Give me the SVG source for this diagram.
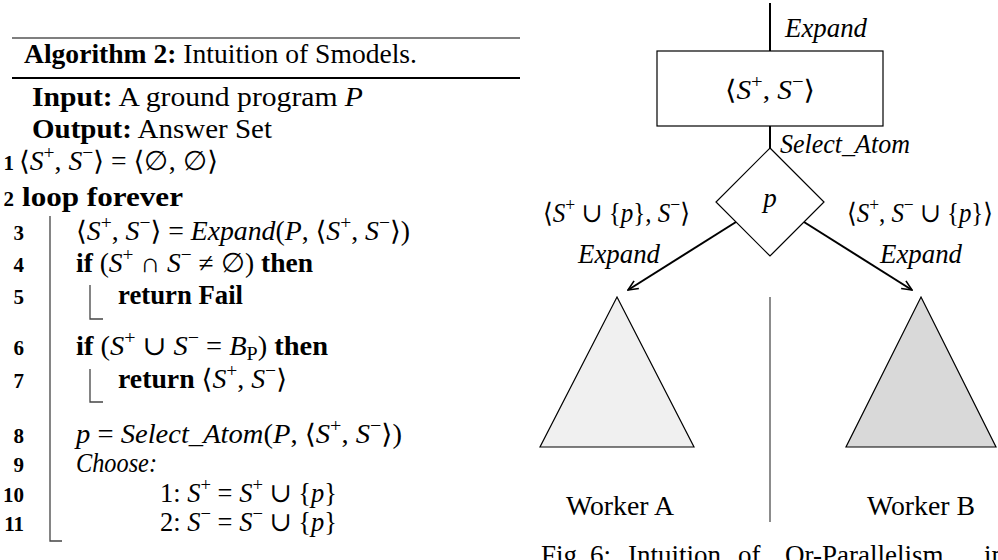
<svg xmlns="http://www.w3.org/2000/svg" width="998" height="560" viewBox="0 0 998 560">
  <style>
    .t{font-family:"Liberation Serif","DejaVu Serif",serif;font-size:27px;fill:#000}
    .b{font-weight:bold}
    .i{font-style:italic}
    .sp{font-size:19px;font-style:normal}
    .ln{font-family:"Liberation Serif","DejaVu Serif",serif;font-size:21px;font-weight:bold;text-anchor:end;fill:#000}
    .mid{text-anchor:middle}
    .rule{stroke:#000;fill:none}
    .bar{stroke:#444;stroke-width:1.3;fill:none}
    .edge{stroke:#000;stroke-width:2;fill:none}
    .shape{stroke:#000;stroke-width:1.2}
  </style>
  <defs>
    <marker id="ah" viewBox="0 0 12 12" refX="11" refY="6" markerWidth="12" markerHeight="12" markerUnits="userSpaceOnUse" orient="auto">
      <path d="M1,1.5 L11,6 L1,10.5" fill="none" stroke="#000" stroke-width="1.6"/>
    </marker>
  </defs>
  <rect width="998" height="560" fill="#fff"/>

  <!-- Algorithm listing -->
  <g id="algorithm">
    <line class="rule" x1="12" y1="38" x2="520" y2="38" stroke-width="1.2"/>
    <text class="t" x="24" y="63" textLength="393" lengthAdjust="spacingAndGlyphs"><tspan class="b">Algorithm 2:</tspan> Intuition of Smodels.</text>
    <line class="rule" x1="12" y1="78" x2="520" y2="78" stroke-width="2"/>
    <text class="t" x="32" y="106" textLength="331" lengthAdjust="spacingAndGlyphs"><tspan class="b">Input:</tspan> A ground program <tspan class="i">P</tspan></text>
    <text class="t" x="32" y="138" textLength="240" lengthAdjust="spacingAndGlyphs"><tspan class="b">Output:</tspan> Answer Set</text>

    <text class="ln" x="14" y="170">1</text>
    <text class="t" x="19" y="170" textLength="199" lengthAdjust="spacingAndGlyphs">⟨<tspan class="i">S</tspan><tspan class="sp" dy="-11">+</tspan><tspan dy="11">, </tspan><tspan class="i">S</tspan><tspan class="sp" dy="-11">−</tspan><tspan dy="11">⟩ = ⟨∅, ∅⟩</tspan></text>

    <text class="ln" x="14" y="206">2</text>
    <text class="t b" x="22" y="206" textLength="161" lengthAdjust="spacingAndGlyphs">loop forever</text>

    <!-- loop body bar -->
    <polyline class="bar" points="50,216 50,541 62,541"/>

    <text class="ln" x="24" y="240">3</text>
    <text class="t" x="76" y="240" textLength="334" lengthAdjust="spacingAndGlyphs">⟨<tspan class="i">S</tspan><tspan class="sp" dy="-11">+</tspan><tspan dy="11">, </tspan><tspan class="i">S</tspan><tspan class="sp" dy="-11">−</tspan><tspan dy="11">⟩ = </tspan><tspan class="i">Expand</tspan>(<tspan class="i">P</tspan>, ⟨<tspan class="i">S</tspan><tspan class="sp" dy="-11">+</tspan><tspan dy="11">, </tspan><tspan class="i">S</tspan><tspan class="sp" dy="-11">−</tspan><tspan dy="11">⟩)</tspan></text>

    <text class="ln" x="24" y="272">4</text>
    <text class="t" x="76" y="272" textLength="237" lengthAdjust="spacingAndGlyphs"><tspan class="b">if</tspan> (<tspan class="i">S</tspan><tspan class="sp" dy="-11">+</tspan><tspan dy="11"> ∩ </tspan><tspan class="i">S</tspan><tspan class="sp" dy="-11">−</tspan><tspan dy="11"> ≠ ∅) </tspan><tspan class="b">then</tspan></text>

    <text class="ln" x="24" y="304">5</text>
    <polyline class="bar" points="90,285 90,319 103,319"/>
    <text class="t b" x="118" y="304" textLength="125" lengthAdjust="spacingAndGlyphs">return Fail</text>

    <text class="ln" x="24" y="355">6</text>
    <text class="t" x="76" y="355" textLength="252" lengthAdjust="spacingAndGlyphs"><tspan class="b">if</tspan> (<tspan class="i">S</tspan><tspan class="sp" dy="-11">+</tspan><tspan dy="11"> ∪ </tspan><tspan class="i">S</tspan><tspan class="sp" dy="-11">−</tspan><tspan dy="11"> = </tspan><tspan class="i">B</tspan><tspan class="sp i" dy="5">P</tspan><tspan dy="-5">) </tspan><tspan class="b">then</tspan></text>

    <text class="ln" x="24" y="388">7</text>
    <polyline class="bar" points="90,369 90,402 103,402"/>
    <text class="t" x="118" y="388" textLength="169" lengthAdjust="spacingAndGlyphs"><tspan class="b">return</tspan> ⟨<tspan class="i">S</tspan><tspan class="sp" dy="-11">+</tspan><tspan dy="11">, </tspan><tspan class="i">S</tspan><tspan class="sp" dy="-11">−</tspan><tspan dy="11">⟩</tspan></text>

    <text class="ln" x="24" y="443">8</text>
    <text class="t" x="76" y="443" textLength="326" lengthAdjust="spacingAndGlyphs"><tspan class="i">p</tspan> = <tspan class="i">Select_Atom</tspan>(<tspan class="i">P</tspan>, ⟨<tspan class="i">S</tspan><tspan class="sp" dy="-11">+</tspan><tspan dy="11">, </tspan><tspan class="i">S</tspan><tspan class="sp" dy="-11">−</tspan><tspan dy="11">⟩)</tspan></text>

    <text class="ln" x="24" y="472">9</text>
    <text class="t i" x="76" y="472" textLength="81" lengthAdjust="spacingAndGlyphs">Choose:</text>

    <text class="ln" x="24" y="502">10</text>
    <text class="t" x="160" y="502" textLength="177" lengthAdjust="spacingAndGlyphs">1: <tspan class="i">S</tspan><tspan class="sp" dy="-11">+</tspan><tspan dy="11"> = </tspan><tspan class="i">S</tspan><tspan class="sp" dy="-11">+</tspan><tspan dy="11"> ∪ {</tspan><tspan class="i">p</tspan>}</text>

    <text class="ln" x="24" y="531">11</text>
    <text class="t" x="160" y="531" textLength="177" lengthAdjust="spacingAndGlyphs">2: <tspan class="i">S</tspan><tspan class="sp" dy="-11">−</tspan><tspan dy="11"> = </tspan><tspan class="i">S</tspan><tspan class="sp" dy="-11">−</tspan><tspan dy="11"> ∪ {</tspan><tspan class="i">p</tspan>}</text>
  </g>

  <!-- Connectors -->
  <g id="connectors">
    <line class="edge" x1="770" y1="3" x2="770" y2="51"/>
    <line class="edge" x1="770" y1="126" x2="770" y2="148"/>
    <line class="edge" x1="736" y1="222" x2="628" y2="290" marker-end="url(#ah)"/>
    <line class="edge" x1="804" y1="222" x2="912" y2="290" marker-end="url(#ah)"/>
  </g>

  <!-- Edge labels -->
  <g id="edge-labels">
    <text class="t i" x="785" y="37" textLength="82" lengthAdjust="spacingAndGlyphs">Expand</text>
    <text class="t i" x="780" y="153" textLength="130" lengthAdjust="spacingAndGlyphs">Select_Atom</text>
    <text class="t" x="543" y="222" textLength="147" lengthAdjust="spacingAndGlyphs">⟨<tspan class="i">S</tspan><tspan class="sp" dy="-11">+</tspan><tspan dy="11"> ∪ {</tspan><tspan class="i">p</tspan>}, <tspan class="i">S</tspan><tspan class="sp" dy="-11">−</tspan><tspan dy="11">⟩</tspan></text>
    <text class="t i" x="578" y="263" textLength="82" lengthAdjust="spacingAndGlyphs">Expand</text>
    <text class="t" x="847" y="222" textLength="146" lengthAdjust="spacingAndGlyphs">⟨<tspan class="i">S</tspan><tspan class="sp" dy="-11">+</tspan><tspan dy="11">, </tspan><tspan class="i">S</tspan><tspan class="sp" dy="-11">−</tspan><tspan dy="11"> ∪ {</tspan><tspan class="i">p</tspan>}⟩</text>
    <text class="t i" x="880" y="263" textLength="82" lengthAdjust="spacingAndGlyphs">Expand</text>
  </g>

  <!-- Nodes -->
  <g id="state-box">
    <rect class="shape" x="657" y="51" width="226" height="75" fill="#fff"/>
    <text class="t" x="725" y="99" textLength="90" lengthAdjust="spacingAndGlyphs">⟨<tspan class="i">S</tspan><tspan class="sp" dy="-11">+</tspan><tspan dy="11">, </tspan><tspan class="i">S</tspan><tspan class="sp" dy="-11">−</tspan><tspan dy="11">⟩</tspan></text>
  </g>
  <g id="choice-p">
    <polygon class="shape" points="770,148 824,202 770,256 716,202" fill="#fff"/>
    <text class="t i mid" x="770" y="207">p</text>
  </g>
  <g id="worker-a">
    <polygon class="shape" points="617,297 694,447 540,447" fill="#f0f0f0"/>
    <text class="t" x="566" y="515" textLength="108" lengthAdjust="spacingAndGlyphs">Worker A</text>
  </g>
  <g id="worker-b">
    <polygon class="shape" points="921,297 996,447 846,447" fill="#d9d9d9"/>
    <text class="t" x="867" y="515" textLength="108" lengthAdjust="spacingAndGlyphs">Worker B</text>
  </g>

  <!-- Divider between workers -->
  <line x1="770" y1="297" x2="770" y2="522" stroke="#666" stroke-width="1.5"/>

  <!-- Caption (runs past the bottom edge) -->
  <g id="caption" class="t">
    <text x="541" y="564">Fig.</text>
    <text x="590" y="564">6:</text>
    <text x="628" y="564">Intuition</text>
    <text x="738" y="564">of</text>
    <text x="785" y="564">Or-Parallelism</text>
    <text x="984" y="564">in</text>
  </g>
</svg>
